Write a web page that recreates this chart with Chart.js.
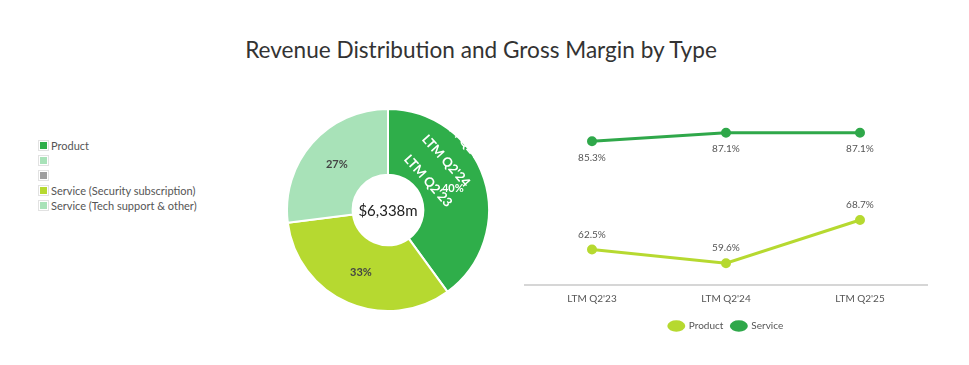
<!DOCTYPE html>
<html>
<head>
<meta charset="utf-8">
<title>Revenue Distribution and Gross Margin by Type</title>
<script src="https://cdn.jsdelivr.net/npm/chart.js@4.4.1/dist/chart.umd.min.js"></script>
<style>
  body { margin: 0; background: #fff; width: 969px; height: 365px; overflow: hidden; position: relative; font-family: Lato, "Open Sans", sans-serif; }
  #title { position: absolute; left: 0; top: 36px; width: 962px; text-align: center; font-size: 22.6px; color: #333; }
  #legend { position: absolute; left: 38px; top: 138px; font-size: 11px; color: #555; }
  #legend .item { height: 15px; display: flex; align-items: center; white-space: nowrap; }
  #legend .box { width: 7px; height: 7px; padding: 1px; margin-right: 2px; border: 1px solid #e2e2e2; background-clip: content-box; }
  #pieWrap { position: absolute; left: 286px; top: 108px; width: 204px; height: 204px; }
  #lineWrap { position: absolute; left: 515px; top: 110px; width: 422px; height: 231px; }
</style>
</head>
<body>
<div id="title">Revenue Distribution and Gross Margin by Type</div>
<div id="legend"></div>
<div id="pieWrap"><canvas id="pieChart"></canvas></div>
<div id="lineWrap"><canvas id="lineChart"></canvas></div>
<script>
// Revenue mix (%), note the two unnamed legend entries carry no value
const shareLabels = ["Product", "", "", "Service (Security subscription)", "Service (Tech support & other)"];
const shareValues = [40, 0, 0, 33, 27];
const shareColors = ["#2fae4a", "#a8e2b8", "#9e9e9e", "#b6d930", "#a8e2b8"];
const totalRevenue = "$6,338m";

// Gross margin (%)
const periods = ["LTM Q2'23", "LTM Q2'24", "LTM Q2'25"];
const productMargin = [62.5, 59.6, 68.7];
const serviceMargin = [85.3, 87.1, 87.1];

const FONT = "Lato, 'Open Sans', sans-serif";

// legend for the doughnut
const legendEl = document.getElementById("legend");
shareLabels.forEach((lbl, i) => {
  const row = document.createElement("div");
  row.className = "item";
  const box = document.createElement("span");
  box.className = "box";
  box.style.backgroundColor = shareColors[i];
  row.appendChild(box);
  row.appendChild(document.createTextNode(lbl));
  legendEl.appendChild(row);
});

// Doughnut labels: percentages, center total and the stray period labels
const pieLabels = {
  id: "pieLabels",
  afterDatasetsDraw(chart) {
    const ctx = chart.ctx;
    const meta = chart.getDatasetMeta(0);
    const cx = meta.data[0].x, cy = meta.data[0].y;
    ctx.save();
    ctx.textAlign = "center";
    ctx.textBaseline = "middle";

    // period labels that ended up on the product slice
    ctx.font = "bold 13px " + FONT;
    ctx.fillStyle = "#fff";
    const offs = [[40, -29], [58, -49], [76, -69]];
    periods.forEach((p, i) => {
      ctx.save();
      ctx.translate(cx + offs[i][0], cy + offs[i][1]);
      ctx.rotate(48 * Math.PI / 180);
      ctx.fillText(p, 0, 0);
      ctx.restore();
    });

    ctx.font = "bold 11px " + FONT;
    meta.data.forEach((arc, i) => {
      if (!shareValues[i]) return;
      const pos = arc.tooltipPosition();
      ctx.fillStyle = i === 0 ? "#fff" : "#444";
      ctx.fillText(shareValues[i] + "%", pos.x, pos.y);
    });

    ctx.font = "15px " + FONT;
    ctx.fillStyle = "#222";
    ctx.fillText(totalRevenue, cx, cy + 1);
    ctx.restore();
  }
};

new Chart(document.getElementById("pieChart"), {
  type: "doughnut",
  data: {
    labels: shareLabels,
    datasets: [{
      data: shareValues,
      backgroundColor: shareColors,
      borderColor: "#fff",
      borderWidth: 2
    }]
  },
  options: {
    responsive: true,
    maintainAspectRatio: false,
    animation: false,
    cutout: "35%",
    plugins: { legend: { display: false }, tooltip: { enabled: false } }
  },
  plugins: [pieLabels]
});

// value labels on the line chart: product above, service below
const lineLabels = {
  id: "lineLabels",
  afterDatasetsDraw(chart) {
    const ctx = chart.ctx;
    ctx.save();
    ctx.font = "10px " + FONT;
    ctx.fillStyle = "#555";
    ctx.textAlign = "center";
    ctx.textBaseline = "middle";
    chart.data.datasets.forEach((ds, di) => {
      chart.getDatasetMeta(di).data.forEach((pt, i) => {
        const dy = di === 0 ? -15 : 16;
        ctx.fillText(ds.data[i].toFixed(1) + "%", pt.x, pt.y + dy);
      });
    });
    ctx.restore();
  }
};

new Chart(document.getElementById("lineChart"), {
  type: "line",
  data: {
    labels: periods,
    datasets: [
      {
        label: "Product",
        data: productMargin,
        borderColor: "#b6d930",
        backgroundColor: "#b6d930",
        pointBackgroundColor: "#b6d930",
        borderWidth: 3,
        pointRadius: 3.5,
        tension: 0
      },
      {
        label: "Service",
        data: serviceMargin,
        borderColor: "#2fa84a",
        backgroundColor: "#2fa84a",
        pointBackgroundColor: "#2fa84a",
        borderWidth: 3,
        pointRadius: 3.5,
        tension: 0
      }
    ]
  },
  options: {
    responsive: true,
    maintainAspectRatio: false,
    animation: false,
    layout: { padding: { top: 9, left: 10, right: 10 } },
    scales: {
      x: {
        offset: true,
        grid: { display: false, drawTicks: false },
        border: { color: "#d6d6d6", width: 2 },
        ticks: { color: "#555", font: { size: 10, family: FONT }, padding: 8 }
      },
      y: { display: false, min: 55, max: 90 }
    },
    plugins: {
      legend: {
        position: "bottom",
        labels: { usePointStyle: true, pointStyle: "circle", pointStyleWidth: 15, boxHeight: 6, color: "#555", font: { size: 10, family: FONT }, padding: 8 }
      },
      tooltip: { enabled: false }
    }
  },
  plugins: [lineLabels]
});
</script>
</body>
</html>
